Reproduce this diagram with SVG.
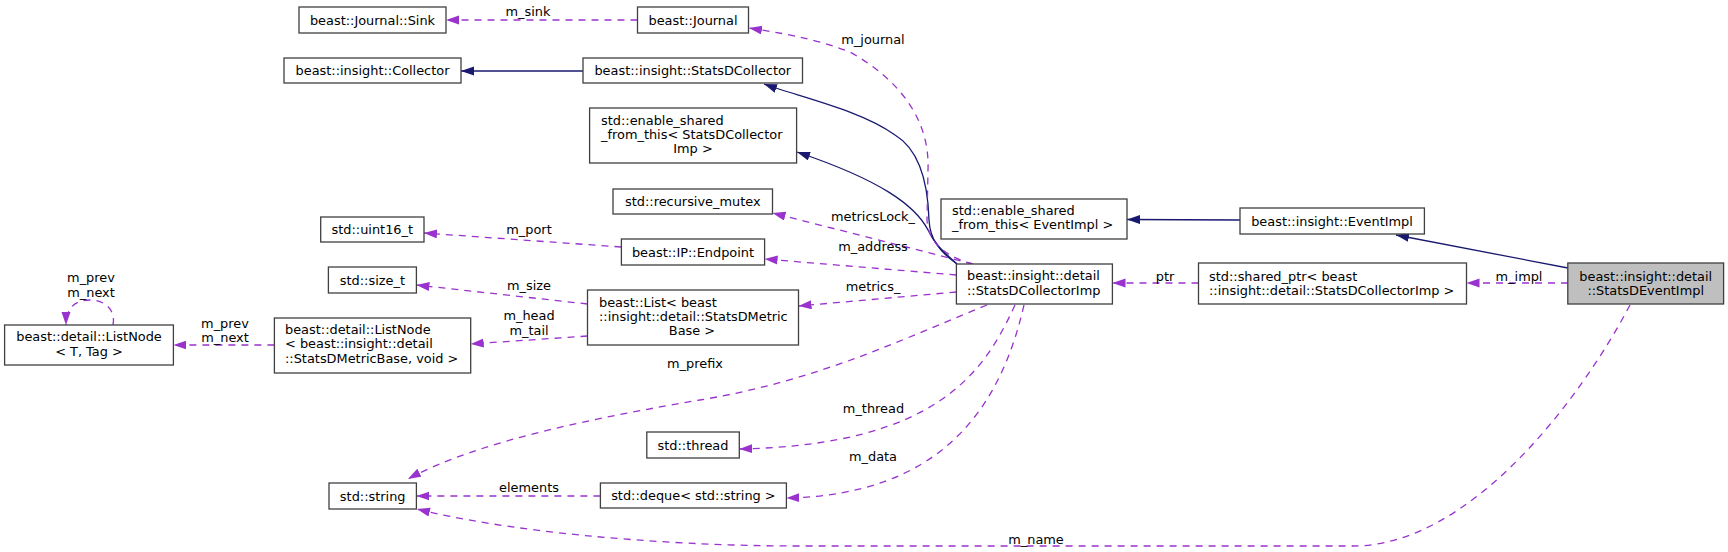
<svg xmlns="http://www.w3.org/2000/svg" width="1728" height="552" viewBox="0 0 1728 552">
<style>
.n rect{fill:#ffffff;stroke:#404040;stroke-width:1.3}
.n.cur rect{fill:#bfbfbf}
text{font-family:"DejaVu Sans","Liberation Sans",sans-serif;font-size:12.9px;fill:#000000}
.c{text-anchor:middle}
.l{text-anchor:start}
.e{fill:none;stroke:#9a32cd;stroke-width:1.3;stroke-dasharray:7,6;marker-end:url(#ap)}
.i{fill:none;stroke:#191970;stroke-width:1.3;marker-end:url(#ab)}
</style>
<defs>
<marker id="ap" markerUnits="userSpaceOnUse" markerWidth="14" markerHeight="10" refX="13" refY="4.5" orient="auto"><path d="M0,0 L13,4.5 L0,9 z" fill="#9a32cd" stroke="none"/></marker>
<marker id="ab" markerUnits="userSpaceOnUse" markerWidth="14" markerHeight="10" refX="13" refY="4.5" orient="auto"><path d="M0,0 L13,4.5 L0,9 z" fill="#191970" stroke="none"/></marker>
</defs>
<rect width="1728" height="552" fill="#ffffff"/>
<g id="edges">
<path class="i" d="M1568,268 L1396,235"/>
<path class="i" d="M1240,220 L1127,219.5"/>
<path class="i" d="M583,71 L461,71"/>
<path class="i" d="M957,264 C940,252 930,240 929,220 C928,185 920,150 895,135 C860,110 800,97 764,84"/>
<path class="i" d="M957,264 C945,253 935,245 928,230 C915,205 880,180 797,152"/>
<path class="e" d="M1568,283 L1466.5,283"/>
<path class="e" d="M1198.5,283 L1112.5,283"/>
<path class="e" d="M637.5,20 L446,20"/>
<path class="e" d="M973,264 C950,258 928,245 927,220 L928,170 C930,120 900,80 850,52 C810,37 780,33 749,28"/>
<path class="e" d="M973,264 L772.5,213"/>
<path class="e" d="M956.4,275 L764.6,259"/>
<path class="e" d="M956.4,292 L798.5,306"/>
<path class="e" d="M621.4,247 L424,233"/>
<path class="e" d="M587.5,304 L416.4,285"/>
<path class="e" d="M587.5,336 L470.7,344"/>
<path class="e" d="M274.4,345 L173.4,345"/>
<path class="e" d="M113,325 C116,310 105,300 90,300 C75,300 66,308 66,325"/>
<path class="e" d="M987,305 C900,340 820,380 700,400 C600,417 480,440 408,479"/>
<path class="e" d="M1015,305 C985,370 940,445 739.3,449"/>
<path class="e" d="M1024,305 C1000,410 940,495 786.4,498"/>
<path class="e" d="M600.4,496 L416.4,496"/>
<path class="e" d="M1630,305 C1580,400 1470,546 1353,546 L800,546 C650,546 500,530 417,509"/>
</g>
<g id="edge-labels">
<text class="c" x="528" y="16">m_sink</text>
<text class="c" x="873" y="43.5">m_journal</text>
<text class="c" x="873" y="220.5">metricsLock_</text>
<text class="c" x="873" y="250.5">m_address</text>
<text class="c" x="873" y="290.5">metrics_</text>
<text class="c" x="529" y="233.5">m_port</text>
<text class="c" x="529" y="289.5">m_size</text>
<text class="c" x="529" y="319.5">m_head</text>
<text class="c" x="529" y="334.5">m_tail</text>
<text class="c" x="225" y="327.5">m_prev</text>
<text class="c" x="225" y="341.5">m_next</text>
<text class="c" x="91" y="281.5">m_prev</text>
<text class="c" x="91" y="296.5">m_next</text>
<text class="c" x="695" y="367.5">m_prefix</text>
<text class="c" x="873.5" y="412.5">m_thread</text>
<text class="c" x="873" y="460.5">m_data</text>
<text class="c" x="529" y="491.5">elements</text>
<text class="c" x="1036" y="543.5">m_name</text>
<text class="c" x="1165" y="280.5">ptr</text>
<text class="c" x="1519" y="280.5">m_impl</text>
</g>
<g id="n_sink" class="n"><rect x="299" y="7" width="147" height="26"/><text class="c" x="372.5" y="24.5">beast::Journal::Sink</text></g>
<g id="n_journal" class="n"><rect x="637.5" y="7" width="111" height="26"/><text class="c" x="693" y="24.5">beast::Journal</text></g>
<g id="n_collector" class="n"><rect x="284" y="58" width="177" height="25"/><text class="c" x="372.5" y="75">beast::insight::Collector</text></g>
<g id="n_statsdcollector" class="n"><rect x="583" y="58" width="219.5" height="25"/><text class="c" x="692.8" y="75">beast::insight::StatsDCollector</text></g>
<g id="n_esft_sdci" class="n"><rect x="589.6" y="108" width="207" height="55"/><text class="l" x="601" y="124.5">std::enable_shared</text><text class="l" x="601" y="138.5">_from_this&lt; StatsDCollector</text><text class="c" x="693" y="153">Imp &gt;</text></g>
<g id="n_mutex" class="n"><rect x="613" y="189" width="159.5" height="25"/><text class="c" x="692.8" y="206">std::recursive_mutex</text></g>
<g id="n_uint16" class="n"><rect x="320.7" y="217" width="103.3" height="25"/><text class="c" x="372.3" y="234">std::uint16_t</text></g>
<g id="n_endpoint" class="n"><rect x="621.4" y="239" width="143.2" height="26"/><text class="c" x="693" y="256.5">beast::IP::Endpoint</text></g>
<g id="n_sizet" class="n"><rect x="328.4" y="267" width="88" height="26"/><text class="c" x="372.4" y="284.5">std::size_t</text></g>
<g id="n_listnode" class="n"><rect x="4.6" y="325" width="168.8" height="40"/><text class="c" x="89" y="341">beast::detail::ListNode</text><text class="c" x="89" y="356">&lt; T, Tag &gt;</text></g>
<g id="n_listnode2" class="n"><rect x="274.4" y="318" width="196.3" height="55"/><text class="l" x="285" y="333.5">beast::detail::ListNode</text><text class="l" x="285" y="348">&lt; beast::insight::detail</text><text class="l" x="285" y="362.5">::StatsDMetricBase, void &gt;</text></g>
<g id="n_list" class="n"><rect x="587.5" y="290" width="211" height="55"/><text class="l" x="599" y="306.5">beast::List&lt; beast</text><text class="l" x="599" y="320.5">::insight::detail::StatsDMetric</text><text class="c" x="692" y="334.5">Base &gt;</text></g>
<g id="n_imp" class="n"><rect x="956.4" y="264" width="156" height="40"/><text class="l" x="967" y="279.5">beast::insight::detail</text><text class="l" x="967" y="294.5">::StatsDCollectorImp</text></g>
<g id="n_esft_ev" class="n"><rect x="941" y="199" width="186" height="40"/><text class="l" x="952" y="214.5">std::enable_shared</text><text class="l" x="952" y="229">_from_this&lt; EventImpl &gt;</text></g>
<g id="n_eventimpl" class="n"><rect x="1240" y="208" width="184.4" height="26"/><text class="c" x="1332" y="225.5">beast::insight::EventImpl</text></g>
<g id="n_sharedptr" class="n"><rect x="1198.5" y="263" width="268" height="41"/><text class="l" x="1209" y="280.5">std::shared_ptr&lt; beast</text><text class="l" x="1209" y="295">::insight::detail::StatsDCollectorImp &gt;</text></g>
<g id="n_statsdeventimpl" class="n cur"><rect x="1567.8" y="263" width="155.8" height="41"/><text class="c" x="1645.7" y="280.5">beast::insight::detail</text><text class="c" x="1645.7" y="295">::StatsDEventImpl</text></g>
<g id="n_thread" class="n"><rect x="646.8" y="432" width="92.5" height="26"/><text class="c" x="693" y="449.5">std::thread</text></g>
<g id="n_deque" class="n"><rect x="600.4" y="483" width="186" height="25"/><text class="c" x="693.4" y="500">std::deque&lt; std::string &gt;</text></g>
<g id="n_string" class="n"><rect x="329" y="483" width="87.4" height="26"/><text class="c" x="372.7" y="500.5">std::string</text></g>
</svg>
